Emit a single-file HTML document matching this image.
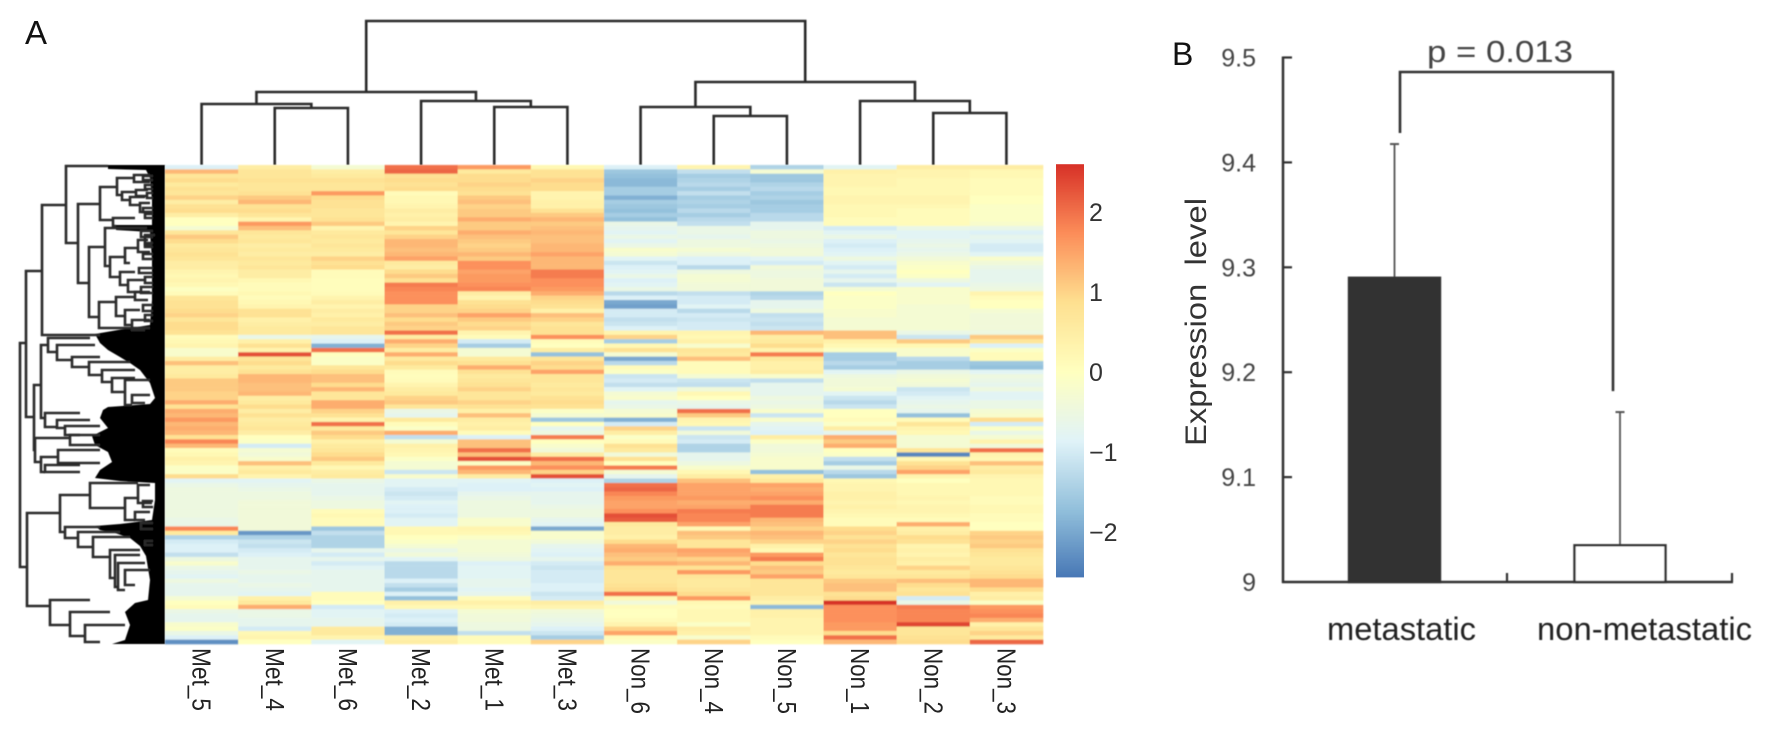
<!DOCTYPE html>
<html lang="en">
<head>
<meta charset="utf-8">
<title>Heatmap and expression level bar chart</title>
<style>
html,body{margin:0;padding:0;background:#fff;}
body{width:1772px;height:739px;overflow:hidden;}
svg{display:block;font-family:"Liberation Sans",sans-serif;}
</style>
</head>
<body>
<svg id="fig" xmlns="http://www.w3.org/2000/svg" width="1772" height="739" viewBox="0 0 1772 739">
  <defs>
    <filter id="soft" x="-2%" y="-2%" width="104%" height="104%"><feGaussianBlur stdDeviation="0.5 0.8"/></filter>
    <filter id="softLine" x="-2%" y="-2%" width="104%" height="104%"><feGaussianBlur stdDeviation="0.4"/></filter>
  </defs>
  <g id="panelA">
    <text x="25" y="44" font-size="33" fill="#111">A</text>
    <g id="topDendro" filter="url(#softLine)"></g>
    <g id="leftDendro" filter="url(#softLine)">
      <path fill="#000" d="M165,165 L108,165 L108,169 L146,170 L150,178 L152,200 L152,225 L116,225 L116,230 L150,232 L152,260 L152,300 L150,325 L118,330 L95,334 L100,343 L108,350 L120,357 L130,363 L140,370 L150,383 L155,398 L150,404 L108,407 L103,410 L100,418 L108,428 L92,436 L95,445 L108,452 L112,462 L100,470 L95,478 L120,481 L155,483 L155,500 L152,520 L120,524 L95,526 L100,530 L115,533 L130,538 L140,546 L146,556 L150,580 L148,600 L135,603 L125,612 L130,625 L125,640 L112,644 L165,644 Z"/>
    </g>
    <g id="heat" filter="url(#soft)"></g>
    <g id="colLabels"></g>
    <g id="colorbar"></g>
  </g>
  <g id="panelB">
    <text x="1172" y="65" font-size="32" fill="#111">B</text>
    <text transform="translate(1206,446) rotate(-90)" font-size="30" fill="#333" textLength="248" lengthAdjust="spacingAndGlyphs">Expression&#160;&#160;level</text>
    <g id="barPlot" filter="url(#softLine)"></g>
  </g>
</svg>
<script>
/* ---------- Panel A data: z-scores per sample, top to bottom ---------- */
const sampleNames = ["Met_5","Met_4","Met_6","Met_2","Met_1","Met_3","Non_6","Non_4","Non_5","Non_1","Non_2","Non_3"];
const met5 = [-.9,1.3,.7,.9,.6,.8,.7,1,.5,.8,.9,.5,0,0,-.3,.7,1.1,.9,.6,.7,.8,.7,.5,.5,.3,.2,.3,.2,-.05,.1,.7,.8,.8,.9,1,.7,.9,.9,.8,.1,.2,.3,-.2,-.2,.5,1.2,.5,.5,.6,1.1,1.1,1.1,1,1,1.4,
  .8,1.4,1.3,1.6,1.3,1.4,1.3,.8,1.8,1.3,.1,.2,.4,.3,-.1,-.1,.9,-.8,-.6,-.5,-.5,-.5,-.5,-.5,-.5,-.5,-.6,-.6,1.8,.6,-1.4,-1,-.9,-.9,-1.2,-.5,-.2,-.6,-.7,-.8,-.5,-.7,-.7,-.7,-.3,0,.1,-.6,-.7,-.7,-.2,-.1,-.6,-.9,-2.3];
const met4 = [.5,.7,.7,.8,.7,.7,.8,1.1,1.3,.8,.9,.7,.3,1.6,1.2,.7,.6,.7,.5,.6,.5,.7,.6,.7,.5,.5,.2,.1,.1,.2,.1,.2,.3,.8,.8,.4,.5,.6,.6,-.6,.4,.8,.3,2.3,.7,.9,.6,.8,1.3,1.3,1.2,1.2,1.3,.5,.6,
  .9,.5,.8,.5,.6,.7,.5,0,-.1,-1,-.3,-.4,-.2,1.2,.4,.6,.3,-.8,-.7,-.6,-.5,-.5,-.4,-.4,-.4,-.4,-.4,-.4,-.4,-2.2,-1.4,-1.1,-1.2,-1,-.9,-.7,-.7,-.7,-.6,-.7,-.7,-.6,-.7,-.8,.4,.6,1.4,-.6,-.6,-.7,-.7,-1,.2,.3,0];
const met6 = [-.3,.5,.6,.8,.7,.7,1.6,.9,.8,.8,.7,.7,.8,1.1,.3,.6,.7,.6,.7,.6,.5,1,.8,.9,.1,.1,.05,.05,.05,.1,.3,.5,.3,.5,.4,.6,.5,.7,.7,-.7,-.9,-1.9,2,0,-.1,-.1,.7,.9,1.2,1.2,.9,1.3,.7,.7,1.4,
  1.4,1,.8,.3,2,.6,1.1,.9,.4,.6,.7,.9,1.1,.6,.2,.5,.6,-.6,-.7,-.7,-.7,-.6,-.5,-.5,.1,.2,.1,.1,-1.6,-1.2,-1.4,-1.4,-1.4,-.7,-1,-.7,-1,-.8,-.7,-.7,-.7,-.7,-.7,.1,.1,0,-1,-.8,-.8,-.7,-.7,.6,.6,.3,-.8];
const met2 = [2,2.1,.8,.9,.8,.9,.1,.2,.2,.3,.5,.4,.5,.3,1,.7,1,1.3,1.3,1.2,1.3,1.5,.6,.5,.9,1.1,.8,1.9,1.8,1.7,1.7,1.7,1,1,1.2,.9,1.1,1,2,.5,1.4,1,.5,1.4,.6,.9,.6,.1,.05,.1,.3,.5,.6,1,1.1,
  .7,-.6,-.7,.6,.1,-.1,1.4,-1.2,-.3,.4,.3,.2,-.1,-.3,-.3,-1.1,-.2,-.8,-.8,-1,-1.1,-1,-.8,-.9,-.9,-1,-.8,-.8,.2,.2,0,-.1,-.3,-.6,-.4,-.8,-1.3,-1.3,-1.3,-1.3,-.9,-1.2,-1.5,-.9,-1.7,.4,.2,-.9,-1,-.9,-1,-1.9,-1.9,.4,.5];
const met1 = [1.6,.6,.9,.9,1,.9,.8,1.1,1.2,1,1.1,1.1,1.4,1.1,1.1,1.4,1.2,1.1,1,1.1,1.3,1.1,1.7,1.7,1.5,1.6,1.6,1.7,1.8,.5,.3,.8,.9,1,1.5,1.1,.9,1,.3,.1,-1,-1.5,-.3,-.3,.6,.8,1.4,.8,.6,.7,.8,1,.7,.7,1,
  .8,.4,1.2,.5,.4,.5,.1,-.9,1.2,1.2,2,1.2,2.3,-.1,1.6,1.3,.5,-.8,-.9,-.9,-.7,-.6,-.5,-.5,-.5,-.5,-.2,-.2,.3,.2,-.1,-.3,-.3,-.3,-.4,-.5,-.9,-.8,-.8,-.8,-.7,-.7,-.8,-.7,.1,.4,.2,-.3,-.4,-.4,-.5,-.5,-1.2,.1,.1];
const met3 = [.2,.8,.8,1,.9,.9,.3,.3,.4,.4,.8,1.1,1.3,1.1,1.2,1.3,1.2,1.2,1.3,1.3,1.5,1.3,1.3,1.3,1.9,1.9,1.7,1.7,1.6,1.4,1,.9,.8,.4,1.2,1,.7,.8,.8,1.7,.1,0,.5,-1.7,.7,1,.9,1.5,.7,.7,.6,.7,.6,.8,.9,
  .8,-.1,-.3,-1.6,0,-.7,-.5,1.9,0,-.2,-.4,.5,2,1.3,1.7,1,2.3,-.9,-.8,-.9,-.7,-.7,-.7,-.6,-.5,-.5,-.7,-.8,-2,-.2,-.2,-.4,-.7,-.8,-.9,-.7,-1,-1.1,-1,-1,-1,-.9,-.9,-1.1,-1,.5,.3,-.4,-.5,-.6,-.7,-.9,-1.1,-1.5,1];
const non6 = [-.9,-1.6,-1.7,-1.8,-1.8,-1.5,-1.5,-1.9,-1.5,-1.6,-1.7,-1.5,-1.7,-.6,-.7,-.8,-.6,-.8,-.6,-.2,-.3,-.8,-1.1,-.9,-.8,-.6,-.9,-.8,-.6,-1.3,-.9,-2,-2.1,-1,-1,-1.2,-1.1,-.9,.3,1,-1.5,.2,.8,-.3,-2,-1.3,.1,-.1,-1.1,-1,-1.2,-.8,-.3,-.2,-.7,
  -.6,-.3,-.2,-1.9,-1,1,.5,-.1,.1,.8,.6,-.4,.8,0,1.9,-.3,-.7,-1.4,2,2.1,1.8,1.6,1.5,1.5,1.7,2.3,2.2,.6,.5,.5,.4,.9,1.3,1.4,1.2,1.1,1.4,.8,.7,.7,.7,.8,.9,2,.2,-.4,.1,0,0,.1,.3,1,1.5,.1,-.1];
const non4 = [.3,-1.2,-1.5,-1.4,-1.3,-1.5,-1.2,-1.5,-1.4,-1.5,-1.3,-1.5,-1.3,-1.2,-.6,-.6,-.7,-.5,-.5,-.3,-.5,-.9,-.9,-1.3,-.5,-.3,-.3,-.4,-.4,-1.2,-1,-1,-.8,-1.3,-1,-1.1,-1,-1,.3,.2,.4,-.2,.7,.6,1.2,.1,.1,.1,-.3,-1.1,-1.2,-.4,.2,0,-.6,
  -.7,2,1.1,.3,.2,-1.1,-.4,-1.1,-1,-1.4,-1.4,-.7,-.7,-.5,-.2,.2,.5,1.2,1.5,1.5,1.5,1.6,1.4,1.5,1.9,1.8,1.8,1.5,.2,1.2,1.1,.7,.7,1.5,1.4,1,1.3,.8,1.6,.7,.6,.6,.7,.9,1.6,.2,.1,.2,.2,.2,-.1,.5,.4,-.2,1];
const non5 = [-1.4,-.3,-1.6,-1.6,-1.4,-1.3,-1.5,-1.4,-1.6,-1.5,-1.5,-1.3,-1.3,-.7,-.7,-.5,-.5,-.6,-.5,-.4,-.4,-.8,-1,-.4,-.5,-.5,-.4,-.4,-.4,-1.4,-1.3,-.7,-.7,-.5,-1.2,-1.1,-1.2,-1.1,1.3,.5,.6,.9,.3,1.9,.6,.4,.4,.5,-.2,-1.2,-.7,-.7,-.7,-.5,-.6,
  -.5,-.2,-1.1,-.2,-.7,-.8,-.9,.5,-.1,-.4,-.4,-.3,-.2,-.2,-.2,-1.7,.4,.6,1.5,1.4,1.5,1.7,1.4,1.9,1.9,1.9,1.3,1.2,1,1.3,1.2,1,.4,.2,1.6,1.9,.9,1.2,1.1,1.5,.7,.7,.7,.7,.5,.3,-1.8,.4,.4,.3,.3,.3,.3,.1,0];
const non1 = [-.8,.4,.3,.3,.3,.2,.2,.3,.3,.2,.2,.2,.1,.1,-1,-.8,-.6,-.9,-1,-.9,-.8,-.5,-.8,-1,-.7,-1,-.7,-1.1,-.3,0,-.1,-.1,-.1,-.2,-.2,-.3,-.3,-.3,1.2,1.2,.4,.2,-.1,-1.5,-1.5,-1.3,-1.5,-.8,-.5,-.4,-.4,-.3,-.8,-1.1,-1.3,
  -1.1,0,0,.1,-.1,.5,-.7,1.4,1.1,1.4,0,-.1,-1.2,-1.5,-.6,-1.3,-1.6,.2,.3,.3,.4,.4,.3,.4,.3,.2,.1,.1,.9,1,.8,1,.8,.9,.7,.8,.8,.7,.6,.7,1.1,1.2,1.2,.8,.9,2.6,1.7,1.7,1.7,1.7,1.6,1.6,.9,2,1.3];
const non2 = [.5,.3,.3,.2,.2,.2,.2,.3,.3,.2,.1,.1,.1,.1,-.6,-.8,-.8,-.7,-.6,-.7,-.6,-.4,-.2,-.1,0,-.1,-.5,-.8,-.2,-.2,-.2,-.2,-.3,-.3,-.3,-.3,-.3,-.3,-.6,-1.1,1.1,.2,-.2,-.2,-1.3,-1.5,-1.5,-.6,-.4,-.3,-.4,-1.1,-1,-.8,-.7,
  -.6,-.7,-1.7,.1,.7,.3,.2,-.3,-.3,-.3,.7,-2.4,.2,.8,1,1.5,.3,0,.2,.2,.2,.3,.2,.3,.3,.2,.1,1.4,.4,.5,.9,.8,.3,.4,.3,.5,.4,1,.6,.7,1.2,.9,.7,.8,-1,-.6,1.9,1.8,1.8,1.8,2.4,.7,.7,.8,.9];
const non3 = [.5,.2,.2,.1,.1,.1,.1,0,0,-.1,-.1,-.1,-.1,-.2,-.6,-.9,-.7,-.8,-1,-1,-.8,-.2,-.4,-.6,-.7,-.7,-.7,-.6,-.5,.3,.1,0,0,-.3,-.4,-.4,-.4,-.4,-.5,1.1,.7,-.9,-.1,.1,.1,-1.6,-1.7,-.8,-.5,-.6,-.7,-.5,-.8,-.8,-.6,
  -.6,-.3,-.2,.9,-1,-.1,-.6,-.3,.3,-.4,2,.3,.2,1.2,.5,.6,.3,.2,.2,.2,.2,.1,.1,.2,.2,.1,.1,0,0,1,1.1,1,1.1,.8,.7,.6,.6,.7,.8,.9,1.3,1.3,.9,.4,.5,-.1,1.6,1.7,1.8,1.4,.4,.7,1,.6,2.1];
const heatColumns = [met5,met4,met6,met2,met1,met3,non6,non4,non5,non1,non2,non3];

/* colour scale ticks */
const scaleTicks = [2,1,0,-1,-2];
const scaleDomain = [-2.56,2.59];
const paletteStops = ["#4575B4","#91BFDB","#E0F3F8","#FFFFBF","#FEE090","#FC8D59","#D73027"];

/* column dendrogram merges: [childA, childB, height]; negative child = earlier merge (-1 - index) */
const colMerges = [[1,2,57],[0,-1,61],[4,5,58],[3,-3,64],[-2,-4,73],[7,8,49],[6,-6,58],[10,11,52],[9,-8,64],[-7,-9,83],[-5,-10,144]];

/* row dendrogram branches: [depth, topLeaf, bottomLeaf, topChildDepth, bottomChildDepth] */
const rowBranches = [
 [145,178,402,139,138],[139,106,252,123,131],[123,40,170,99,65],[99,1,78,57,87],[87,39,118,65,76],
 [65,22,55,48,52],[48,13,30,31,43],[31,10,17,15,15],[43,27,35,29,35],[35,32,40,20,25],[29,25,31,17,17],
 [25,38,47,15,13],[52,53,61,30,49],[76,82,152,60,66],[60,63,101,18,55],[55,92,112,40,45],[40,83,98,27,35],
 [27,75,87,17,15],[20,70,80,10,13],[45,107,120,30,37],[37,115,127,20,25],[66,137,163,49,15],[49,132,151,30,40],
 [40,145,160,25,33],[33,155,165,15,20],[30,127,135,15,17],
 [131,220,285,124,130],[124,180,253,117,120],[117,173,187,75,108],[108,180,195,70,93],[93,192,202,65,76],
 [76,197,210,35,63],[63,205,217,30,53],[53,213,227,30,40],[40,215,240,15,33],[33,230,238,15,20],
 [120,248,262,85,108],[108,255,263,75,100],[100,261,270,65,85],[130,273,297,95,124],[95,270,280,65,65],
 [124,292,307,107,120],[107,285,298,65,65],[120,300,307,85,85],
 [138,348,441,105,115],[105,330,367,75,100],[75,318,343,27,40],[40,333,355,27,30],[27,320,338,15,13],
 [30,347,355,15,20],[100,362,373,65,87],[87,367,382,45,72],[72,372,392,35,55],[55,385,413,25,50],
 [50,390,422,25,47],[47,398,425,20,40],[40,405,420,15,30],[115,435,460,75,95],[95,447,471,55,80],[80,460,477,40,65],
 [22,11,15,12,12],[20,20,24,12,12],[18,28,33,12,12],[22,43,47,12,12],[20,49,53,12,12],[24,66,72,12,12],
 [20,78,82,12,12],[22,89,94,12,12],[26,103,108,12,12],[20,112,118,12,12],[24,122,128,12,12],[22,140,146,12,12],
 [20,150,156,12,12],[22,336,342,12,12],[24,358,364,12,12],[20,376,380,12,12]
];

/* ---------- Panel B data ---------- */
const barCategories = ["metastatic","non-metastatic"];
const barMeans = [9.29,9.035];
const barErrorTops = [9.4175,9.162];
const yTickValues = [9,9.1,9.2,9.3,9.4,9.5];
const yTickLabels = ["9","9.1","9.2","9.3","9.4","9.5"];
const pLabel = "p = 0.013";
const bracketEnds = [9.428,9.182];

/* ---------- helpers ---------- */
const NS = "http://www.w3.org/2000/svg";
function mk(parent, tag, attrs){
  const el = document.createElementNS(NS, tag);
  for (const k in attrs) el.setAttribute(k, attrs[k]);
  parent.appendChild(el);
  return el;
}
function hexRgb(h){return [parseInt(h.slice(1,3),16),parseInt(h.slice(3,5),16),parseInt(h.slice(5,7),16)];}
function colorOf(v){
  const t = Math.max(0,Math.min(1,(v+2.6)/5.2))*(paletteStops.length-1);
  const i = Math.min(paletteStops.length-2,Math.floor(t));
  const f = t-i, a = hexRgb(paletteStops[i]), b = hexRgb(paletteStops[i+1]);
  return "rgb("+a.map((c,j)=>Math.round(c+(b[j]-c)*f)).join(",")+")";
}

/* ---------- heatmap ---------- */
const heatLeft=165, heatRight=1043, heatTop=165, heatBottom=644;
const nCols = heatColumns.length, nRows = heatColumns[0].length;
const colW = (heatRight-heatLeft)/nCols, rowH = (heatBottom-heatTop)/nRows;
const xCol = i => heatLeft + i*colW;
const yRow = r => heatTop + r*rowH;
const heatG = document.getElementById("heat");
heatColumns.forEach((col,c)=>{
  col.forEach((v,r)=>{
    const cell = mk(heatG,"rect",{x:xCol(c),y:yRow(r),width:colW+.3,height:rowH+.3,fill:colorOf(v)});
    
    
  });
});

/* sample labels */
const labG = document.getElementById("colLabels");
sampleNames.forEach((n,i)=>{
  const cx = xCol(i)+colW/2-9;
  const t = mk(labG,"text",{transform:"translate("+cx+",648) rotate(90)","font-size":26,fill:"#222",textLength:n.startsWith("Met")?63:66,lengthAdjust:"spacingAndGlyphs"});
  t.textContent = n;
  
  
});

/* colour bar */
const cbG = document.getElementById("colorbar");
const cbTop=165, cbBottom=577, cbX=1056, cbW=28;
const yScale = v => cbTop + (scaleDomain[1]-v)/(scaleDomain[1]-scaleDomain[0])*(cbBottom-cbTop);
for (let v=scaleDomain[0]; v<scaleDomain[1]; v+=0.02){
  const seg = mk(cbG,"rect",{x:cbX,y:yScale(v+0.02),width:cbW,height:yScale(v)-yScale(v+0.02)+.4,fill:colorOf(v)});
  
  
}
scaleTicks.forEach(v=>{
  const t = mk(cbG,"text",{x:1089,y:yScale(v)+9,"font-size":25,fill:"#333"});
  t.textContent = (v<0?"\u2212":"")+Math.abs(v);
  
  
});

/* column dendrogram */
const topG = document.getElementById("topDendro");
const yHeight = h => heatTop - h;
const nodes = [];
function childPos(k){
  return k>=0 ? {x:xCol(k)+colW/2,y:heatTop} : nodes[-k-1];
}
colMerges.forEach(m=>{
  const a=childPos(m[0]), b=childPos(m[1]), y=yHeight(m[2]);
  const p = mk(topG,"path",{d:"M"+a.x+","+a.y+"V"+y+"H"+b.x+"V"+b.y,fill:"none",stroke:"#2b2b2b","stroke-width":2.6});
  
  
  nodes.push({x:(a.x+b.x)/2,y:y});
});

/* row dendrogram */
const leftG = document.getElementById("leftDendro");
const xDepth = d => heatLeft - d;
const yLeaf = p => heatTop + p*(heatBottom-heatTop)/479;
rowBranches.forEach(b=>{
  const x=xDepth(b[0]), yT=yLeaf(b[1]), yB=yLeaf(b[2]);
  const p = mk(leftG,"path",{d:"M"+xDepth(b[3])+","+yT+"H"+x+"V"+yB+"H"+xDepth(b[4]),fill:"none",stroke:"#2b2b2b","stroke-width":2.6});
  
  
});

/* ---------- bar chart ---------- */
const plot = document.getElementById("barPlot");
const axisX=1283, axisRight=1732, y0=582, pxPerUnit=1049;
const yVal = v => y0 - (v-9)*pxPerUnit;
const barW = 91;
const barCenters = [0,1].map(i => 1394.5 + i*225.5);
const ink = "#333";

const yAxis = mk(plot,"line",{x1:axisX,y1:yVal(9.5)-1,x2:axisX,y2:y0+1,stroke:ink,"stroke-width":2.5});


yTickValues.forEach((v,i)=>{
  if (v>9){
    const tk = mk(plot,"line",{x1:axisX,y1:yVal(v),x2:axisX+9,y2:yVal(v),stroke:ink,"stroke-width":2.2});
    
    
  }
  const t = mk(plot,"text",{x:1256,y:yVal(v)+9,"font-size":25,"text-anchor":"end",fill:"#444"});
  t.textContent = yTickLabels[i];
  
  
});
const xAxis = mk(plot,"line",{x1:axisX-1,y1:y0,x2:axisRight+1,y2:y0,stroke:ink,"stroke-width":2.5});


[1507,axisRight].forEach(x=>{
  const tk = mk(plot,"line",{x1:x,y1:y0,x2:x,y2:y0-9,stroke:ink,"stroke-width":2.2});
  
  
});

const barFills = ["#333","#fff"];
barCategories.forEach((name,i)=>{
  const cx = barCenters[i];
  const err = mk(plot,"line",{x1:cx,y1:yVal(barErrorTops[i]),x2:cx,y2:yVal(barMeans[i]),stroke:"#555","stroke-width":1.8});
  
  
  const cap = mk(plot,"line",{x1:cx-4.5,y1:yVal(barErrorTops[i]),x2:cx+4.5,y2:yVal(barErrorTops[i]),stroke:"#555","stroke-width":2});
  
  
  const bar = mk(plot,"rect",{x:cx-barW/2,y:yVal(barMeans[i]),width:barW,height:y0-yVal(barMeans[i]),fill:barFills[i],stroke:"#333","stroke-width":2.4});
  
  
});

/* x labels */
const catBoxes = [[1327,149],[1537,215]];
barCategories.forEach((name,i)=>{
  const t = mk(plot,"text",{x:catBoxes[i][0],y:640,"font-size":32,fill:"#222",textLength:catBoxes[i][1],lengthAdjust:"spacingAndGlyphs"});
  t.textContent = name;
  
  
});

/* significance bracket */
const brX = [1400,1613], brY = 72;
const br = mk(plot,"path",{d:"M"+brX[0]+","+yVal(bracketEnds[0])+"V"+brY+"H"+brX[1]+"V"+yVal(bracketEnds[1]),fill:"none",stroke:"#333","stroke-width":2.6});


const pt = mk(plot,"text",{x:1427,y:62,"font-size":31,fill:"#444",textLength:146,lengthAdjust:"spacingAndGlyphs"});
pt.textContent = pLabel;


</script>
</body>
</html>
